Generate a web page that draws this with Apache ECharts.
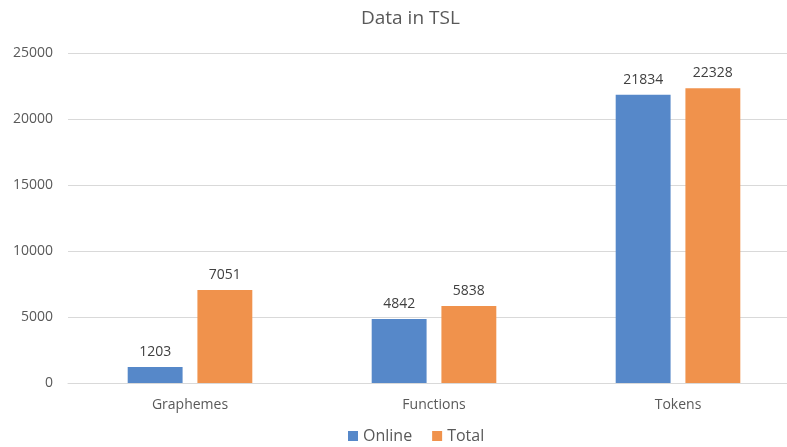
<!DOCTYPE html>
<html>
<head>
<meta charset="utf-8">
<script src="https://cdn.jsdelivr.net/npm/echarts@6/dist/echarts.min.js"></script>
<style>html,body{margin:0;padding:0;background:#fff}#c{width:787px;height:447px}</style>
</head>
<body>
<div id="c"></div>
<script>
const categories = ['Graphemes', 'Functions', 'Tokens'];
const onlineValues = [1203, 4842, 21834];
const totalValues = [7051, 5838, 22328];
const yTicks = [0, 5000, 10000, 15000, 20000, 25000];

const chart = echarts.init(document.getElementById('c'));
const fontFamily = '"Open Sans", "Noto Sans", sans-serif';
chart.setOption({
  animation: false,
  textStyle: { fontFamily: fontFamily },
  title: {
    text: 'Data in TSL', left: 356, top: 4,
    textStyle: { fontSize: 19, fontWeight: 'normal', color: '#595959', fontFamily: fontFamily }
  },
  legend: {
    bottom: -2, left: 343, itemWidth: 10, itemHeight: 10, itemGap: 20,
    icon: 'rect',
    textStyle: { fontSize: 16, color: '#595959', fontFamily: fontFamily }
  },
  grid: { left: 68, right: -13, top: 53, bottom: 64, outerBoundsMode: 'none', containLabel: false },
  xAxis: {
    type: 'category', data: categories,
    axisLine: { show: true, lineStyle: { color: '#d9d9d9', width: 1 } },
    axisTick: { show: false },
    axisLabel: { fontSize: 14, color: '#595959', margin: 15, fontFamily: fontFamily }
  },
  yAxis: {
    type: 'value', min: yTicks[0], max: yTicks[yTicks.length - 1], interval: 5000,
    axisLine: { show: false }, axisTick: { show: false },
    splitLine: { lineStyle: { color: '#d9d9d9', width: 1 } },
    axisLabel: { fontSize: 14, color: '#595959', margin: 15, fontFamily: fontFamily,
      formatter: function (v) { return String(v); } }
  },
  series: [
    {
      name: 'Online', type: 'bar', data: onlineValues, barWidth: '22.5%', barGap: '27%',
      itemStyle: { color: '#5688C9' },
      label: { show: true, position: 'top', distance: 8, fontSize: 14, color: '#404040', fontFamily: fontFamily }
    },
    {
      name: 'Total', type: 'bar', data: totalValues, barWidth: '22.5%', barGap: '27%',
      itemStyle: { color: '#F0924C' },
      label: { show: true, position: 'top', distance: 8, fontSize: 14, color: '#404040', fontFamily: fontFamily }
    }
  ]
});
</script>
</body>
</html>
